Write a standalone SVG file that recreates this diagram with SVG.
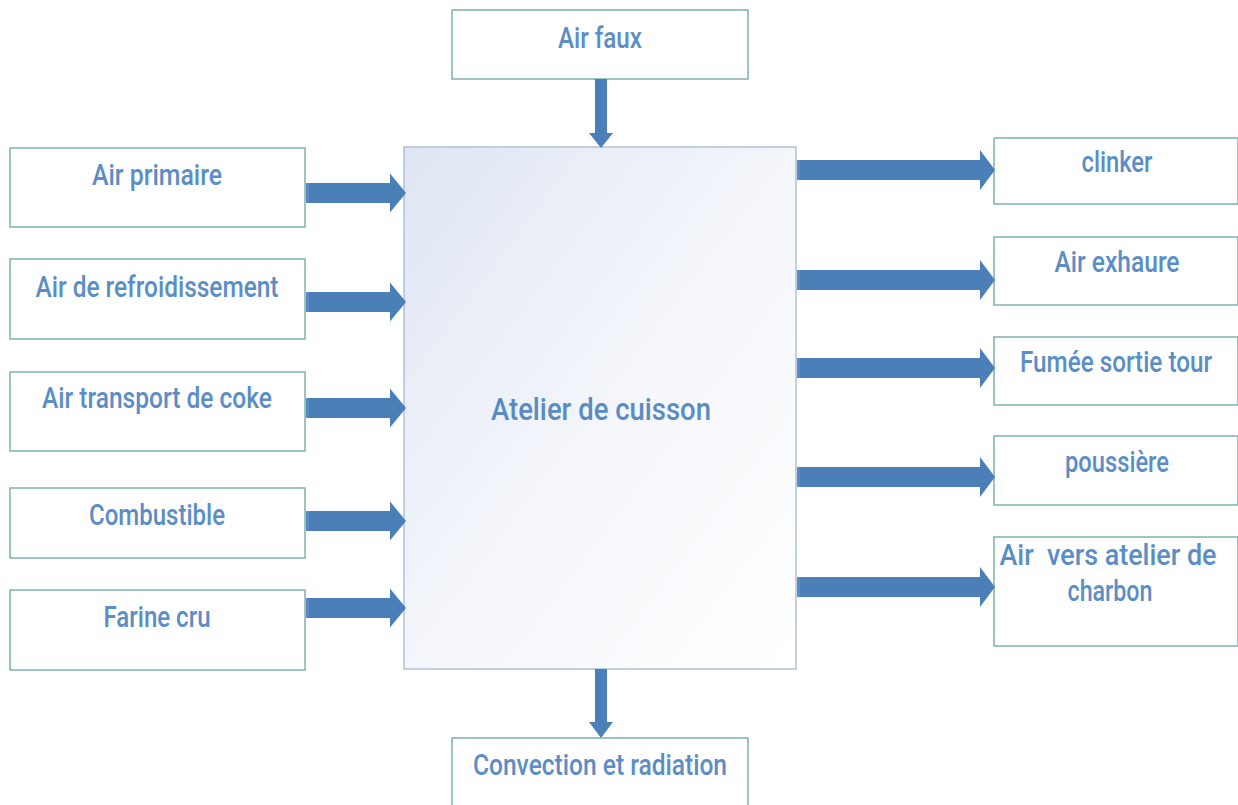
<svg xmlns="http://www.w3.org/2000/svg" width="1238" height="805" viewBox="0 0 1238 805">
  <style>
    .box { fill: #ffffff; stroke: #7fb0b0; stroke-width: 1.5; }
    .lbl { font-family: Roboto, "Liberation Sans", sans-serif; font-weight: 500; font-size: 29px; fill: #5b8dc6; text-anchor: middle; }
    .big { font-size: 31px; fill: #5a8bc3; }
    .arrow { fill: #4a7fb8; }
    .edge { fill: #6595c8; }
  </style>
  <defs>
    <linearGradient id="core" x1="0" y1="0" x2="1" y2="1">
      <stop offset="0" stop-color="#dfe6f3"/>
      <stop offset="0.55" stop-color="#f5f7fb"/>
      <stop offset="1" stop-color="#ffffff"/>
    </linearGradient>
    <!-- right-pointing block arrows, tip at origin -->
    <path id="arrR" d="M-100,-10 H-16 V-19.5 L0,0 L-16,19.5 V10 H-100 Z"/>
    <path id="arrL" d="M-198,-10 H-15 V-20 L0,0 L-15,20 V10 H-198 Z"/>
  </defs>

  <rect width="1238" height="805" fill="#ffffff"/>

  <!-- central process -->
  <g id="atelier">
    <rect x="404" y="147" width="392" height="522" fill="url(#core)" stroke="#afc1d8" stroke-width="1.5"/>
    <text class="lbl big" x="601" y="420" textLength="220" lengthAdjust="spacingAndGlyphs">Atelier de cuisson</text>
  </g>

  <!-- inputs -->
  <g id="air-faux">
    <rect class="box" x="452" y="10" width="296" height="69"/>
    <text class="lbl" x="600" y="48" textLength="84" lengthAdjust="spacingAndGlyphs">Air faux</text>
  </g>
  <g id="air-primaire">
    <rect class="box" x="10" y="148" width="295" height="79"/>
    <text class="lbl" x="157" y="185" textLength="130" lengthAdjust="spacingAndGlyphs">Air primaire</text>
  </g>
  <g id="air-refroidissement">
    <rect class="box" x="10" y="259" width="295" height="80"/>
    <text class="lbl" x="157" y="297" textLength="243" lengthAdjust="spacingAndGlyphs">Air de refroidissement</text>
  </g>
  <g id="air-transport-coke">
    <rect class="box" x="10" y="372" width="295" height="79"/>
    <text class="lbl" x="157" y="408" textLength="230" lengthAdjust="spacingAndGlyphs">Air transport de coke</text>
  </g>
  <g id="combustible">
    <rect class="box" x="10" y="488" width="295" height="70"/>
    <text class="lbl" x="157" y="525" textLength="136" lengthAdjust="spacingAndGlyphs">Combustible</text>
  </g>
  <g id="farine-cru">
    <rect class="box" x="10" y="590" width="295" height="80"/>
    <text class="lbl" x="157" y="627" textLength="107" lengthAdjust="spacingAndGlyphs">Farine cru</text>
  </g>

  <!-- outputs -->
  <g id="clinker">
    <rect class="box" x="994" y="138" width="244" height="66"/>
    <text class="lbl" x="1117" y="172" textLength="71" lengthAdjust="spacingAndGlyphs">clinker</text>
  </g>
  <g id="air-exhaure">
    <rect class="box" x="994" y="237" width="244" height="68"/>
    <text class="lbl" x="1117" y="272" textLength="125" lengthAdjust="spacingAndGlyphs">Air exhaure</text>
  </g>
  <g id="fumee-sortie-tour">
    <rect class="box" x="994" y="337" width="244" height="68"/>
    <text class="lbl" x="1116" y="372" font-size="25" textLength="192" lengthAdjust="spacingAndGlyphs">Fumée sortie tour</text>
  </g>
  <g id="poussiere">
    <rect class="box" x="994" y="436" width="244" height="69"/>
    <text class="lbl" x="1117" y="472" textLength="104" lengthAdjust="spacingAndGlyphs">poussière</text>
  </g>
  <g id="air-atelier-charbon">
    <rect class="box" x="994" y="537" width="244" height="109"/>
    <text class="lbl" x="1108" y="565" textLength="217" lengthAdjust="spacingAndGlyphs" xml:space="preserve">Air  vers atelier de</text>
    <text class="lbl" x="1110" y="601" textLength="85" lengthAdjust="spacingAndGlyphs">charbon</text>
  </g>
  <g id="convection-radiation">
    <rect class="box" x="452" y="738" width="296" height="80"/>
    <text class="lbl" x="600" y="775" textLength="254" lengthAdjust="spacingAndGlyphs">Convection et radiation</text>
  </g>

  <!-- flows -->
  <g id="connectors">
    <!-- into the kiln -->
    <use href="#arrR" class="arrow" x="406" y="193"/>
    <use href="#arrR" class="arrow" x="406" y="302"/>
    <use href="#arrR" class="arrow" x="406" y="408"/>
    <use href="#arrR" class="arrow" x="406" y="521"/>
    <use href="#arrR" class="arrow" x="406" y="608"/>
    <!-- out of the kiln -->
    <use href="#arrL" class="arrow" x="995" y="170"/>
    <use href="#arrL" class="arrow" x="995" y="280"/>
    <use href="#arrL" class="arrow" x="995" y="368"/>
    <use href="#arrL" class="arrow" x="995" y="477"/>
    <use href="#arrL" class="arrow" x="995" y="587"/>
    <!-- shaft edges -->
    <g class="edge" opacity="0.6">
      <rect x="306" y="183" width="3" height="20"/>
      <rect x="306" y="292" width="3" height="20"/>
      <rect x="306" y="398" width="3" height="20"/>
      <rect x="306" y="511" width="3" height="20"/>
      <rect x="306" y="598" width="3" height="20"/>
      <rect x="797" y="160" width="3" height="20"/>
      <rect x="797" y="270" width="3" height="20"/>
      <rect x="797" y="358" width="3" height="20"/>
      <rect x="797" y="467" width="3" height="20"/>
      <rect x="797" y="577" width="3" height="20"/>
    </g>
    <!-- vertical flows -->
    <path class="arrow" d="M595,79 H607 V133 H613 L601,148 L589,133 H595 Z"/>
    <path class="arrow" d="M595,669 H607 V722 H613 L601,738 L589,722 H595 Z"/>
  </g>
</svg>
